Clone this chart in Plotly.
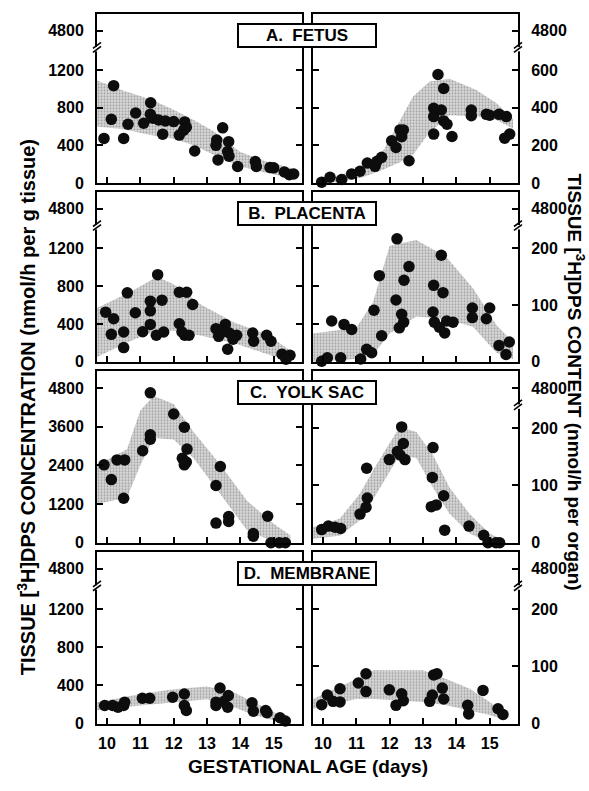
import plotly.graph_objects as go

W, H = 589, 791
FONT = "Liberation Sans, Arial, Helvetica, sans-serif"

# ---------------- data ----------------
day_ticks = [10, 11, 12, 13, 14, 15]

# A. FETUS - concentration (left) and content (right)
fetus_conc_x = [9.91, 10.2, 10.13, 10.5, 10.63, 10.86, 11.1, 11.31, 11.3, 11.38, 11.67, 11.55, 11.75, 12.0,
                12.17, 12.33, 12.38, 12.3, 12.63, 13.29, 13.27, 13.47, 13.33, 13.65, 13.62, 13.66, 13.92,
                14.45, 14.48, 14.89, 15.0, 15.32, 15.47, 15.6]
fetus_conc_y = [474, 1035, 677, 474, 624, 744, 635, 853, 730, 688, 519, 670, 660, 653, 509, 649, 593, 560,
                340, 456, 400, 586, 245, 439, 333, 285, 175, 228, 175, 165, 160, 116, 88, 95]
fetus_conc_band_x = [9.7, 10.5, 11.3, 12.0, 12.6, 13.2, 14.0, 14.8, 15.6]
fetus_conc_band_hi = [1090, 980, 890, 780, 670, 550, 330, 225, 150]
fetus_conc_band_lo = [600, 570, 510, 470, 400, 300, 175, 105, 50]

fetus_cont_x = [9.96, 10.21, 10.56, 10.86, 11.11, 11.33, 11.56, 11.62, 11.76, 12.06, 12.19, 12.31, 12.41,
                12.36, 12.58, 13.45, 13.32, 13.32, 13.55, 13.62, 13.62, 13.72, 13.32, 13.87, 14.45, 14.45,
                14.9, 15.0, 15.28, 15.5, 15.45, 15.6]
fetus_cont_y = [4, 30, 18, 48, 62, 106, 88, 115, 136, 224, 189, 282, 282, 246, 118, 577, 397, 353, 388,
                503, 330, 312, 260, 247, 388, 358, 365, 360, 365, 353, 238, 260]
fetus_cont_band_x = [9.8, 10.5, 11.2, 11.8, 12.3, 12.7, 13.2, 13.8, 14.6, 15.2, 15.7]
fetus_cont_band_hi = [15, 40, 90, 170, 330, 460, 540, 555, 495, 425, 340]
fetus_cont_band_lo = [0, 5, 30, 70, 110, 150, 270, 360, 355, 335, 290]

# B. PLACENTA
placenta_conc_x = [9.96, 10.2, 10.13, 10.5, 10.5, 10.61, 10.85, 11.07, 11.3, 11.3, 11.3, 11.48, 11.52,
                   11.65, 11.7, 12.17, 12.39, 12.57, 12.17, 12.25, 12.33, 12.46, 13.27, 13.35, 13.55,
                   13.45, 13.67, 13.62, 13.89, 13.78, 14.37, 14.4, 14.79, 14.92, 15.25, 15.49, 15.37]
placenta_conc_y = [526, 456, 291, 316, 151, 730, 519, 319, 642, 540, 396, 281, 923, 653, 316, 737, 737,
                   607, 403, 316, 281, 281, 351, 270, 396, 316, 305, 133, 281, 240, 305, 218, 281, 218,
                   81, 70, 28]
placenta_conc_band_x = [9.7, 10.7, 11.5, 12.0, 12.8, 13.8, 14.8, 15.5]
placenta_conc_band_hi = [570, 740, 900, 820, 610, 420, 290, 120]
placenta_conc_band_lo = [50, 220, 330, 330, 280, 200, 80, 0]

placenta_cont_x = [9.96, 10.13, 10.53, 10.26, 10.63, 10.86, 11.13, 11.31, 11.46, 11.53, 11.69, 11.76,
                   12.19, 12.22, 12.36, 12.43, 12.58, 12.42, 12.29, 13.32, 13.3, 13.55, 13.6, 13.34,
                   13.49, 13.65, 13.71, 13.9, 14.48, 14.48, 15.0, 14.9, 15.28, 15.49, 15.59]
placenta_cont_y = [1, 7, 7, 72, 66, 57, 5, 22, 16, 91, 152, 46, 109, 217, 84, 144, 168, 70, 60, 135, 88,
                   188, 122, 70, 61, 51, 72, 70, 95, 78, 95, 76, 29, 13, 35]
placenta_cont_band_x = [9.7, 11.0, 11.5, 12.0, 12.8, 13.7, 14.5, 15.2, 15.7]
placenta_cont_band_hi = [50, 60, 105, 205, 215, 185, 130, 65, 35]
placenta_cont_band_lo = [0, 5, 12, 50, 80, 75, 62, 16, 5]

# C. YOLK SAC
yolk_conc_x = [9.91, 10.13, 10.3, 10.53, 10.5, 11.07, 11.3, 11.3, 11.3, 12.0, 12.32, 12.4, 12.26, 12.38,
               12.32, 13.4, 13.27, 13.27, 13.65, 13.65, 14.39, 14.39, 14.82, 14.92, 15.17, 15.35]
yolk_conc_y = [2415, 1958, 2568, 2568, 1380, 2851, 4648, 3350, 3208, 3990, 3582, 2903, 2619, 2500, 2415,
               2364, 1776, 609, 811, 660, 284, 203, 822, 0, 0, 0]
yolk_conc_band_x = [9.7, 10.6, 11.0, 11.4, 12.0, 12.6, 13.4, 14.2, 15.0, 15.5]
yolk_conc_band_hi = [2400, 2900, 4100, 4550, 4300, 3430, 2420, 1300, 590, 230]
yolk_conc_band_lo = [1200, 1400, 2400, 3250, 3200, 2620, 1500, 390, 30, 0]

yolk_cont_x = [9.96, 10.16, 10.36, 10.53, 11.11, 11.29, 11.33, 11.31, 11.99, 12.23, 12.36, 12.41, 12.46,
               12.31, 13.3, 13.28, 13.25, 13.4, 13.62, 13.65, 14.38, 14.82, 14.95, 15.19, 15.3]
yolk_cont_y = [23, 29, 27, 25, 50, 62, 78, 130, 145, 159, 202, 173, 145, 153, 166, 114, 63, 66, 82, 22,
               29, 13, 0, 0, 0]
yolk_cont_band_x = [9.7, 10.5, 11.1, 11.6, 12.3, 12.8, 13.3, 13.8, 14.4, 15.0, 15.4]
yolk_cont_band_hi = [27, 42, 85, 136, 202, 193, 153, 96, 50, 16, 5]
yolk_cont_band_lo = [7, 12, 39, 85, 153, 148, 96, 50, 16, 0, 0]

# D. MEMBRANE
membrane_conc_x = [9.93, 10.17, 10.33, 10.5, 10.53, 11.06, 11.28, 11.97, 12.32, 12.32, 12.38, 13.39,
                   13.27, 13.27, 13.64, 13.5, 13.62, 14.35, 14.39, 14.76, 14.8, 15.19, 15.35]
membrane_conc_y = [190, 190, 173, 190, 225, 266, 266, 277, 311, 190, 138, 373, 225, 190, 294, 232, 173,
                   218, 131, 138, 114, 62, 28]
membrane_conc_band_x = [9.7, 11.0, 12.0, 13.0, 13.8, 14.4, 15.0, 15.5]
membrane_conc_band_hi = [225, 310, 360, 390, 330, 225, 120, 35]
membrane_conc_band_lo = [140, 190, 225, 255, 175, 90, 35, 0]

membrane_cont_x = [9.96, 10.13, 10.3, 10.51, 10.51, 11.06, 11.29, 11.29, 11.99, 12.19, 12.36, 12.41,
                   13.2, 13.28, 13.32, 13.42, 13.58, 13.62, 14.34, 14.37, 14.8, 15.25, 15.4]
membrane_cont_y = [33, 50, 39, 61, 38, 71, 87, 56, 59, 32, 52, 40, 39, 50, 85, 87, 62, 43, 32, 17, 58,
                   26, 16]
membrane_cont_band_x = [9.7, 11.0, 11.5, 13.0, 13.7, 14.4, 15.0, 15.5]
membrane_cont_band_hi = [43, 78, 93, 93, 78, 61, 38, 15]
membrane_cont_band_lo = [26, 43, 43, 38, 32, 23, 15, 6]

panel_labels = ["A.  FETUS", "B.  PLACENTA", "C.  YOLK SAC", "D.  MEMBRANE"]

# axis scales: (range top, tick values, tick labels, axis break?)
left_axes = [
    (1800, [0, 400, 800, 1200, 1620], ["0", "400", "800", "1200", "4800"], True),
    (1800, [0, 400, 800, 1200, 1620], ["0", "400", "800", "1200", "4800"], True),
    (5333, [0, 1200, 2400, 3600, 4800], ["0", "1200", "2400", "3600", "4800"], False),
    (1800, [0, 400, 800, 1200, 1620], ["0", "400", "800", "1200", "4800"], True),
]
right_axes = [
    (900, [0, 200, 400, 600, 810], ["0", "200", "400", "600", "4800"], True),
    (300, [0, 100, 200, 270], ["0", "100", "200", "4800"], True),
    (300, [0, 100, 200, 270], ["0", "100", "200", "4800"], True),
    (300, [0, 100, 200, 270], ["0", "100", "200", "4800"], True),
]
# inner ticks on the left border of the right-hand panels
right_inner_ticks = [
    [200, 400, 600],
    [66.7, 133.3, 200],
    [100, 200],
    [100, 200],
]

rows = [
    ((fetus_conc_x, fetus_conc_y, fetus_conc_band_x, fetus_conc_band_lo, fetus_conc_band_hi),
     (fetus_cont_x, fetus_cont_y, fetus_cont_band_x, fetus_cont_band_lo, fetus_cont_band_hi)),
    ((placenta_conc_x, placenta_conc_y, placenta_conc_band_x, placenta_conc_band_lo, placenta_conc_band_hi),
     (placenta_cont_x, placenta_cont_y, placenta_cont_band_x, placenta_cont_band_lo, placenta_cont_band_hi)),
    ((yolk_conc_x, yolk_conc_y, yolk_conc_band_x, yolk_conc_band_lo, yolk_conc_band_hi),
     (yolk_cont_x, yolk_cont_y, yolk_cont_band_x, yolk_cont_band_lo, yolk_cont_band_hi)),
    ((membrane_conc_x, membrane_conc_y, membrane_conc_band_x, membrane_conc_band_lo, membrane_conc_band_hi),
     (membrane_cont_x, membrane_cont_y, membrane_cont_band_x, membrane_cont_band_lo, membrane_cont_band_hi)),
]

# ---------------- layout geometry (pixels) ----------------
row_px = [(14, 185), (194, 366), (375, 549), (558, 732)]
col_px = [(97, 302), (313, 518)]


def px(x):
    return x / W


def py(y):
    return 1 - y / H


fig = go.Figure()
layout = dict(
    width=W, height=H, margin=dict(l=0, r=0, t=0, b=0),
    paper_bgcolor="white", plot_bgcolor="white", showlegend=False,
    font=dict(family=FONT, color="black"),
)
shapes = []
annotations = []

tickfont = dict(family=FONT, size=16, color="black", weight="bold")
tick_common = dict(ticks="inside", ticklen=6, tickwidth=1.5, tickcolor="black")


def aname(prefix, n):
    return prefix if n == 1 else f"{prefix}{n}"


for r, (left, right) in enumerate(rows):
    top, bot = row_px[r]
    ydom = [py(bot), py(top)]
    for c, (data, ax) in enumerate(((left, left_axes[r]), (right, right_axes[r]))):
        n = 2 * r + c + 1
        xs, ys, bx, blo, bhi = data
        rng_top, tv, tt, has_break = ax
        xd = [px(col_px[c][0]), px(col_px[c][1])]
        layout[f"xaxis{n}"] = dict(
            domain=xd, anchor=f"y{n}", range=[9.7, 15.85],
            tickmode="array", tickvals=day_ticks, ticktext=[str(d) for d in day_ticks],
            showline=True, linewidth=2, linecolor="black", mirror=True,
            showgrid=False, zeroline=False, showticklabels=(r == 3),
            tickfont=tickfont, ticklabelstandoff=4, **tick_common,
        )
        layout[f"yaxis{n}"] = dict(
            domain=ydom, anchor=f"x{n}", range=[0, rng_top], side="left" if c == 0 else "right",
            tickmode="array", tickvals=tv, ticktext=tt,
            showline=True, linewidth=2, linecolor="black",
            mirror="ticks" if c == 0 else True,
            showgrid=False, zeroline=False, tickfont=tickfont, ticklabelstandoff=8,
            **tick_common,
        )
        xa, ya = aname("x", n), aname("y", n)
        fig.add_trace(go.Scatter(
            x=list(bx) + list(bx)[::-1], y=list(bhi) + list(blo)[::-1],
            xaxis=xa, yaxis=ya, mode="lines", fill="toself",
            line=dict(width=0, color="rgba(0,0,0,0)"),
            fillcolor="#d2d2d2",
            fillpattern=dict(shape=".", fgcolor="#666666", bgcolor="#d8d8d8", size=3, solidity=0.35),
            hoverinfo="skip",
        ))
        fig.add_trace(go.Scatter(
            x=xs, y=ys, xaxis=xa, yaxis=ya, mode="markers",
            marker=dict(size=11.5, color="#0d0d0d", line=dict(width=0)),
            cliponaxis=False,
        ))
        if c == 1:
            m = 8 + r + 1 + 1  # overlay axis numbers 10..13
            layout[f"yaxis{m}"] = dict(
                overlaying=f"y{n}", anchor=f"x{n}", side="left", range=[0, rng_top],
                tickmode="array", tickvals=right_inner_ticks[r], showticklabels=False,
                showline=False, showgrid=False, zeroline=False, **tick_common,
            )
            fig.add_trace(go.Scatter(x=[], y=[], xaxis=xa, yaxis=f"y{m}", mode="markers",
                                     hoverinfo="skip"))
        if has_break:
            bxp = col_px[c][0] if c == 0 else col_px[c][1]
            byp = bot - 0.79 * (bot - top)
            shapes.append(dict(type="line", xref="paper", yref="paper",
                               x0=px(bxp), x1=px(bxp), y0=py(byp + 2), y1=py(byp - 2.5),
                               line=dict(color="white", width=4)))
            for off in (0, 4):
                shapes.append(dict(type="line", xref="paper", yref="paper",
                                   x0=px(bxp - 4), y0=py(byp + 2 - off + 1),
                                   x1=px(bxp + 4), y1=py(byp - 4 - off + 1),
                                   line=dict(color="black", width=1.6)))
    # panel label box
    annotations.append(dict(
        x=px(307), y=py(top + 22), xref="paper", yref="paper",
        text=panel_labels[r], showarrow=False, xanchor="center", yanchor="middle",
        font=dict(family=FONT, size=17, color="black", weight="bold"),
        bgcolor="white", bordercolor="black", borderwidth=2, borderpad=1,
        width=134, height=19,
    ))

annotations.append(dict(
    x=px(26), y=py(412), xref="paper", yref="paper", textangle=-90,
    text="TISSUE [<sup>3</sup>H]DPS CONCENTRATION (nmol/h per g tissue)", showarrow=False,
    font=dict(family=FONT, size=20, color="black", weight="bold"),
    xanchor="center", yanchor="middle",
))
annotations.append(dict(
    x=px(576), y=py(386), xref="paper", yref="paper", textangle=90,
    text="TISSUE [<sup>3</sup>H]DPS CONTENT (nmol/h per organ)", showarrow=False,
    font=dict(family=FONT, size=19, color="black", weight="bold"),
    xanchor="center", yanchor="middle",
))
annotations.append(dict(
    x=px(308), y=py(775), xref="paper", yref="paper",
    text="GESTATIONAL AGE (days)", showarrow=False,
    font=dict(family=FONT, size=19, color="black", weight="bold"),
    xanchor="center", yanchor="middle",
))

layout["shapes"] = shapes
layout["annotations"] = annotations
fig.update_layout(**layout)
fig.write_html("out.html")
